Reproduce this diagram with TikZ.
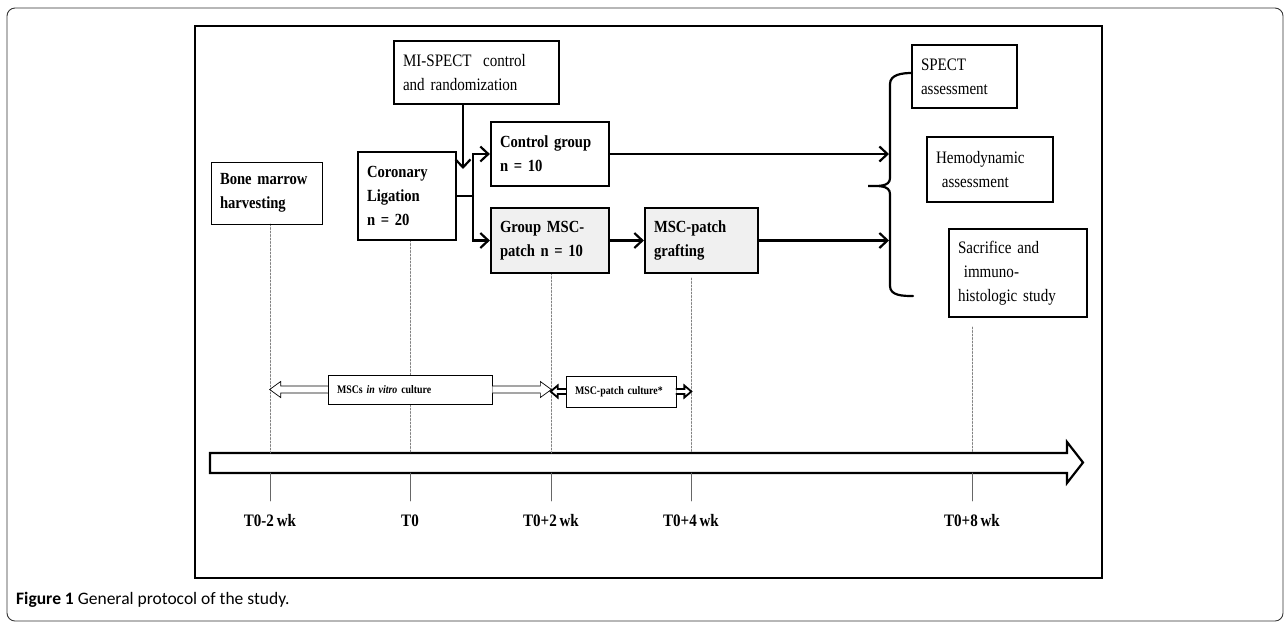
\documentclass[tikz,border=0pt]{standalone}
\usepackage{fontspec}
\setmainfont{Liberation Serif}[FakeStretch=0.86,WordSpace=0.75]
\newfontfamily\capfont{Carlito}
\usetikzlibrary{arrows.meta}

\begin{document}
\begin{tikzpicture}[x=1pt,y=-1pt,line cap=round,
        >={Straight Barb[length=8pt,width=15pt]},
        box/.style={draw,line width=2.2pt,inner xsep=9pt,inner ysep=0pt,align=left,
            font=\fontsize{17}{24}\selectfont\bfseries},
        plainbox/.style={box,font=\fontsize{17.5}{24}\selectfont},
        thinbox/.style={box,line width=0.9pt},
        grpbox/.style={box,fill=gray!12},
        cultbox/.style={draw,fill=white,line width=0.7pt,inner xsep=9pt,align=left,
            font=\fontsize{11.5}{12}\selectfont\bfseries},
        flow/.style={line width=2.2pt,->},
        guide/.style={gray,line width=0.6pt,dash pattern=on 2pt off 1.5pt},
        tick/.style={gray!80!black,line width=0.7pt},
        hollow/.style={line width=0.7pt,fill=white,line join=miter},
        heavy/.style={line width=1.8pt,fill=white,line join=miter},
        wklabel/.style={font=\fontsize{17.5}{18}\selectfont\bfseries}]
        \useasboundingbox (0,0) rectangle (1287,625);

        % frames
        \draw[rounded corners=8pt,line width=0.9pt,black!80] (7,8) rectangle (1283,621);
        \draw[line width=1.8pt] (195,26) rectangle (1102,578);

        % caption
        \node[anchor=base west,inner sep=0pt,font=\capfont\fontsize{17.5}{19}\selectfont] (cap) at (16,604)
            {\textbf{Figure 1} General protocol of the study.};

        % timeline
        \draw[line width=2.2pt,fill=white,line join=miter] (210,453) -- (1067,453) -- (1067,442)
            -- (1083,462.5) -- (1067,483) -- (1067,473) -- (210,473) -- cycle;
        \foreach \x/\lbl [count=\i] in {270/T0-2 wk, 410/T0, 551/T0+2 wk, 691/T0+4 wk, 972/T0+8 wk} {
                \draw[tick] (\x,473) -- (\x,501);
                \node[wklabel] (wk\i) at (\x,521) {\lbl};
        }
        % dashed time guides
        \foreach \x/\y in {270/224, 410/240, 551/273, 691/278, 972/327}
                \draw[guide] (\x,\y) -- (\x,453);

        % boxes
        \node[plainbox,text width=147pt,minimum height=63pt] (mi) at (476.5,72.5)
            {MI-SPECT\ \ control\\and randomization};
        \node[thinbox,text width=93pt,minimum height=62pt] (bone) at (266.5,193)
            {Bone marrow\\harvesting};
        \node[box,text width=80pt,minimum height=88pt] (cor) at (407,196)
            {Coronary\\Ligation\\n = 20};
        \node[box,text width=100pt,minimum height=64pt] (ctrl) at (550,154)
            {Control~group\\n = 10};
        \node[grpbox,text width=100pt,minimum height=65pt] (grp) at (550,240.5)
            {Group MSC-\\patch n = 10};
        \node[grpbox,text width=95pt,minimum height=65pt] (graft) at (701.5,240.5)
            {MSC-patch\\grafting};
        \node[plainbox,text width=87pt,minimum height=63pt] (spect) at (964.5,76.5)
            {SPECT\\assessment};
        \node[plainbox,text width=108pt,minimum height=65pt] (hemo) at (990,169.5)
            {Hemodynamic\\\ assessment};
        \node[plainbox,text width=120pt,minimum height=88pt] (sacr) at (1018,273)
            {Sacrifice and\\\ immuno-\\histologic~study};

        % culture periods
        \node[cultbox,text width=146pt,minimum height=29pt] (vitro) at (410,389.5)
            {MSCs \textit{in vitro} culture};
        \node[cultbox,text width=92pt,minimum height=31pt] (patch) at (621,391.5)
            {MSC-patch culture*};
        \draw[hollow] ([yshift=3.5pt]vitro.west) -- ++(-47,0) -- ++(0,-4.5) -- ++(-11,8)
            -- ++(11,8) -- ++(0,-4.5) -- ([yshift=-3.5pt]vitro.west);
        \draw[hollow] ([yshift=3.5pt]vitro.east) -- ++(48,0) -- ++(0,-4.5) -- ++(11,8)
            -- ++(-11,8) -- ++(0,-4.5) -- ([yshift=-3.5pt]vitro.east);
        \draw[heavy] ([yshift=2.5pt]patch.west) -- ++(-8,0) -- ++(0,-3.5) -- ++(-7,6)
            -- ++(7,6) -- ++(0,-3.5) -- ([yshift=-2.5pt]patch.west);
        \draw[heavy] ([yshift=2.5pt]patch.east) -- ++(8,0) -- ++(0,-3.5) -- ++(7,6)
            -- ++(-7,6) -- ++(0,-3.5) -- ([yshift=-2.5pt]patch.east);

        % flow
        \coordinate (split) at (473,196);
        \coordinate (rnd) at (463,169);
        \draw[line width=2.2pt] (cor.east |- split) -- (split);
        \draw[flow] (split) |- (ctrl.west);
        \draw[flow] (split) |- (grp.west);
        \draw[flow] (mi.south -| rnd) -- (rnd);
        \draw[flow] (grp) -- (graft);

        % brace to the assessments
        \coordinate (brc) at (889,186);
        \draw[line width=2.2pt] (912,73) to[out=180,in=90] (890,84) -- (890,178)
            to[out=-90,in=0] (868,186) to[out=0,in=90] (890,194) -- (890,286)
            to[out=-90,in=180] (913,296);
        \draw[flow] (ctrl) -- (ctrl -| brc);
        \draw[flow] (graft) -- (graft -| brc);
\end{tikzpicture}
\end{document}
